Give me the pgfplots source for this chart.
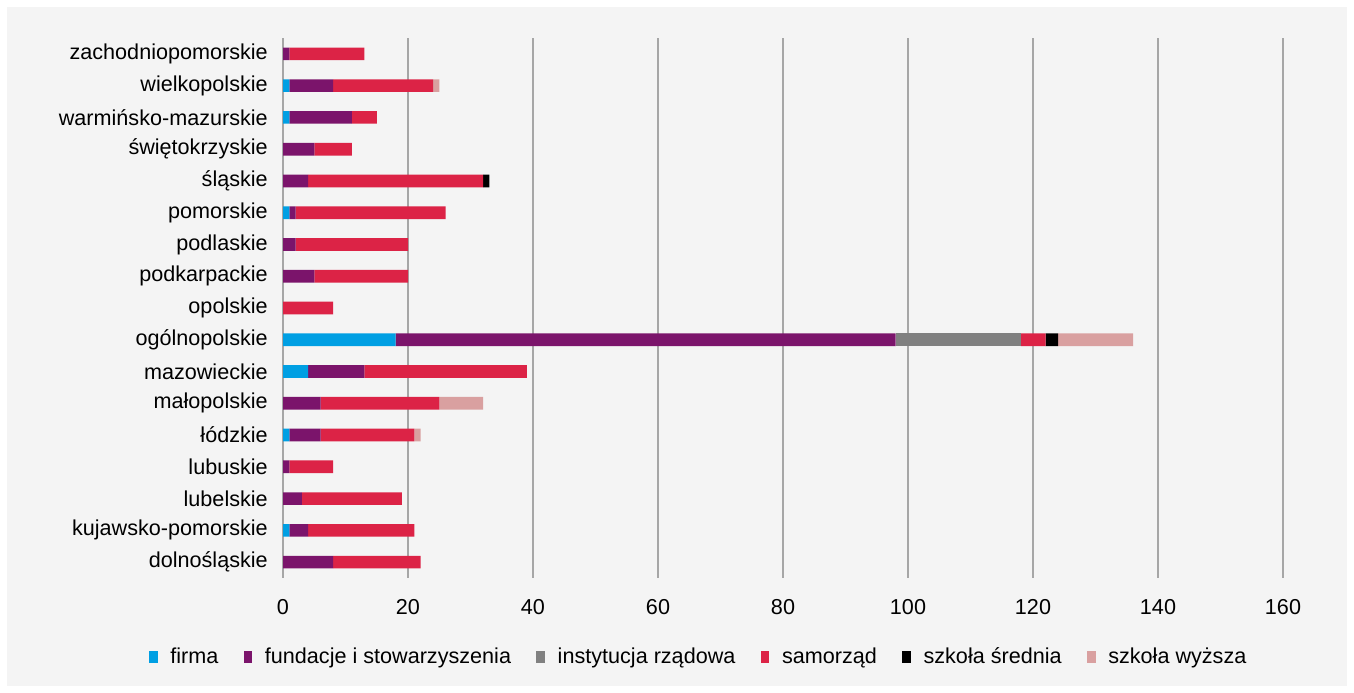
\documentclass[border=0pt]{standalone}
\usepackage{fontspec}
\setmainfont{Liberation Sans}
\usepackage{pgfplots}
\pgfplotsset{compat=1.18}
\usepackage{pgfplotstable}
\definecolor{cFirma}{HTML}{009FE3}
\definecolor{cFund}{HTML}{7B146B}
\definecolor{cRzad}{HTML}{808080}
\definecolor{cSamo}{HTML}{DC2346}
\definecolor{cSred}{HTML}{000000}
\definecolor{cWyz}{HTML}{D9A0A0}
\definecolor{panel}{HTML}{F4F4F4}
\definecolor{gridc}{HTML}{A6A6A6}

\pgfplotstableread{
y firma fund rzad samo sred wyz
0 0 8 0 14 0 0
1 1 3 0 17 0 0
2 0 3 0 16 0 0
3 0 1 0 7 0 0
4 1 5 0 15 0 1
5 0 6 0 19 0 7
6 4 9 0 26 0 0
7 18 80 20 4 2 12
8 0 0 0 8 0 0
9 0 5 0 15 0 0
10 0 2 0 18 0 0
11 1 1 0 24 0 0
12 0 4 0 28 1 0
13 0 5 0 6 0 0
14 1 10 0 4 0 0
15 1 7 0 16 0 1
16 0 1 0 12 0 0
}\data

\begin{document}
\begin{tikzpicture}
\fill[white] (0,0) rectangle (1015.5pt,519.75pt);
\fill[panel] (5.25pt,5.25pt) rectangle (1010.25pt,514.5pt);
\begin{axis}[
  at={(212.25pt,86.25pt)}, anchor=south west,
  scale only axis, width=750pt, height=405pt,
  xbar stacked, bar width=9.5pt,
  xmin=0, xmax=160, ymin=-0.5, ymax=16.5,
  xtick={0,20,...,160},
  ytick={0,...,16},
  yticklabels={dolnośląskie,kujawsko-pomorskie,lubelskie,lubuskie,łódzkie,małopolskie,mazowieckie,ogólnopolskie,opolskie,podkarpackie,podlaskie,pomorskie,śląskie,świętokrzyskie,warmińsko-mazurskie,wielkopolskie,zachodniopomorskie},
  axis line style={draw=none},
  major tick length=0pt,
  xmajorgrids, grid style={gridc, line width=1.5pt},
  /pgf/number format/assume math mode=true,
  tick label style={font=\fontsize{16.2}{18}\selectfont, text=black, inner sep=0pt},
  yticklabel style={anchor=east, xshift=-11.25pt},
  xticklabel style={anchor=center, yshift=-21.75pt},
  legend style={at={(0.416,-0.146)}, anchor=center, legend columns=6, draw=none, fill=none,
    font=\fontsize{16.2}{18}\selectfont,
    /tikz/every even column/.append style={column sep=17pt}},
  legend image code/.code={\fill[#1] (0pt,-4.5pt) rectangle (6.5pt,4.5pt); \path[draw=none,fill=none] (0pt,0pt) -- (14pt,0pt);},
  every axis plot/.append style={draw=none},
]
\addplot[fill=cFirma] table[x=firma,y=y]{\data};
\addplot[fill=cFund] table[x=fund,y=y]{\data};
\addplot[fill=cRzad] table[x=rzad,y=y]{\data};
\addplot[fill=cSamo] table[x=samo,y=y]{\data};
\addplot[fill=cSred] table[x=sred,y=y]{\data};
\addplot[fill=cWyz] table[x=wyz,y=y]{\data};
\legend{firma,fundacje i stowarzyszenia,instytucja rządowa,samorząd,szkoła średnia,szkoła wyższa}
\end{axis}
\end{tikzpicture}
\end{document}
